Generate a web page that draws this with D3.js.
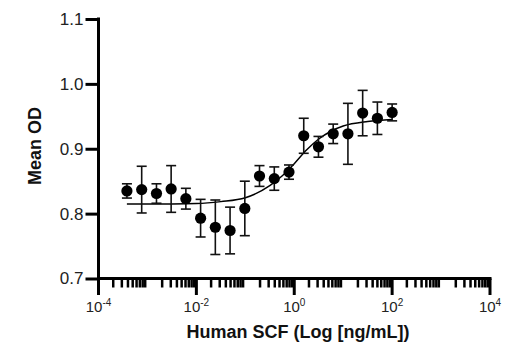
<!DOCTYPE html>
<html>
<head>
<meta charset="utf-8">
<script src="https://cdn.jsdelivr.net/npm/d3@7"></script>
<style>
  html, body { margin: 0; padding: 0; background: #fff; }
  svg { display: block; }
</style>
</head>
<body>
<svg id="chart" width="520" height="350"></svg>
<script>
// ---- data ----
const concentrations = [0.000381, 0.000763, 0.00153, 0.00305, 0.0061, 0.0122, 0.0244, 0.0488, 0.0977,
  0.195, 0.391, 0.781, 1.5625, 3.125, 6.25, 12.5, 25, 50, 100];
const meanOD = [0.835, 0.837, 0.831, 0.838, 0.823, 0.793, 0.779, 0.774, 0.808,
  0.858, 0.854, 0.864, 0.920, 0.903, 0.923, 0.923, 0.955, 0.947, 0.956];
const errorOD = [0.011, 0.036, 0.015, 0.036, 0.016, 0.029, 0.042, 0.036, 0.042,
  0.016, 0.018, 0.011, 0.027, 0.016, 0.015, 0.047, 0.035, 0.025, 0.013];
// fitted curve (log10 concentration, OD)
const curveLogX = [-3.42, -2.5, -2.0, -1.5, -1.0, -0.5, -0.25, 0, 0.25, 0.5, 0.75, 1.0, 1.5, 2.0];
const curveOD = [0.8148, 0.8150, 0.8155, 0.8185, 0.8245, 0.843, 0.858, 0.877, 0.898, 0.915, 0.927, 0.935, 0.942, 0.945];
const yTicks = [0.7, 0.8, 0.9, 1.0, 1.1];
const xTickExponents = [-4, -2, 0, 2, 4];
const yLabel = "Mean OD";
const xLabel = "Human SCF (Log [ng/mL])";

// ---- scales ----
const svg = d3.select("#chart");
const x = d3.scaleLog().domain([1e-4, 1e4]).range([98.5, 490]);
const y = d3.scaleLinear().domain([0.7, 1.1]).range([278.5, 19]);
const axisY = 278.5;

// ---- Y axis ----
const gy = svg.append("g").attr("transform", `translate(${x.range()[0]},0)`);
gy.call(d3.axisLeft(y).tickValues(yTicks).tickFormat(d3.format(".1f")).tickSize(13).tickPadding(2));
gy.select(".domain").remove();
gy.append("line").attr("x1", 0).attr("x2", 0).attr("y1", y(1.1) - 1.5).attr("y2", axisY + 16.5)
  .attr("stroke", "#000").attr("stroke-width", 3);
gy.selectAll(".tick line").attr("stroke", "#000").attr("stroke-width", 3);
gy.selectAll(".tick text")
  .attr("fill", "#222")
  .style("font-family", "'Liberation Sans Narrow', 'Liberation Sans', Arial, sans-serif")
  .style("font-size", "17px");

// ---- X axis ----
const gx = svg.append("g");
gx.append("line").attr("x1", x.range()[0] - 1.5).attr("x2", x.range()[1] + 1.5)
  .attr("y1", axisY).attr("y2", axisY).attr("stroke", "#000").attr("stroke-width", 3);
const minorTicks = [];
for (let e = -4; e < 4; e++) for (let m = 2; m <= 9; m++) minorTicks.push(m * Math.pow(10, e));
gx.selectAll("line.minor").data(minorTicks).join("line").attr("class", "minor")
  .attr("x1", d => x(d)).attr("x2", d => x(d))
  .attr("y1", axisY).attr("y2", axisY + 9)
  .attr("stroke", "#000").attr("stroke-width", 2.5);
gx.selectAll("line.major").data(xTickExponents).join("line").attr("class", "major")
  .attr("x1", d => x(Math.pow(10, d))).attr("x2", d => x(Math.pow(10, d)))
  .attr("y1", axisY).attr("y2", axisY + 16.5)
  .attr("stroke", "#000").attr("stroke-width", 3);
const lbl = gx.selectAll("text.xl").data(xTickExponents).join("text").attr("class", "xl")
  .attr("x", d => x(Math.pow(10, d)))
  .attr("y", 312)
  .attr("text-anchor", "middle")
  .attr("fill", "#222")
  .style("font-family", "'Liberation Sans Narrow', 'Liberation Sans', Arial, sans-serif")
  .style("font-size", "15px");
lbl.append("tspan").text("10");
lbl.append("tspan").attr("dy", -6).style("font-size", "10px").text(d => String(d).replace("-", "-"));

// ---- axis titles ----
svg.append("text")
  .attr("x", 298).attr("y", 338)
  .attr("text-anchor", "middle")
  .style("font-family", "'Liberation Sans Narrow', 'Liberation Sans', Arial, sans-serif")
  .style("font-weight", "bold").style("font-size", "18px")
  .attr("fill", "#111")
  .text(xLabel);
svg.append("text")
  .attr("transform", `translate(41,146) rotate(-90)`)
  .attr("text-anchor", "middle")
  .style("font-family", "'Liberation Sans Narrow', 'Liberation Sans', Arial, sans-serif")
  .style("font-weight", "bold").style("font-size", "18px")
  .attr("fill", "#111")
  .text(yLabel);

// ---- fitted curve ----
const curvePts = curveLogX.map((lx, i) => [Math.pow(10, lx), curveOD[i]]);
svg.append("path").datum(curvePts)
  .attr("d", d3.line().x(d => x(d[0])).y(d => y(d[1])).curve(d3.curveMonotoneX))
  .attr("fill", "none").attr("stroke", "#000").attr("stroke-width", 1.5);

// ---- error bars + points ----
const pts = concentrations.map((c, i) => ({ c, m: meanOD[i], e: errorOD[i] }));
const eb = svg.append("g").attr("stroke", "#111").attr("stroke-width", 1.6);
eb.selectAll("line.v").data(pts).join("line").attr("class", "v")
  .attr("x1", d => x(d.c)).attr("x2", d => x(d.c))
  .attr("y1", d => y(d.m + d.e)).attr("y2", d => y(d.m - d.e));
eb.selectAll("line.t").data(pts).join("line").attr("class", "t")
  .attr("x1", d => x(d.c) - 5).attr("x2", d => x(d.c) + 5)
  .attr("y1", d => y(d.m + d.e)).attr("y2", d => y(d.m + d.e));
eb.selectAll("line.b").data(pts).join("line").attr("class", "b")
  .attr("x1", d => x(d.c) - 5).attr("x2", d => x(d.c) + 5)
  .attr("y1", d => y(d.m - d.e)).attr("y2", d => y(d.m - d.e));
svg.append("g").selectAll("circle").data(pts).join("circle")
  .attr("cx", d => x(d.c)).attr("cy", d => y(d.m)).attr("r", 5.6).attr("fill", "#000");
</script>
</body>
</html>
